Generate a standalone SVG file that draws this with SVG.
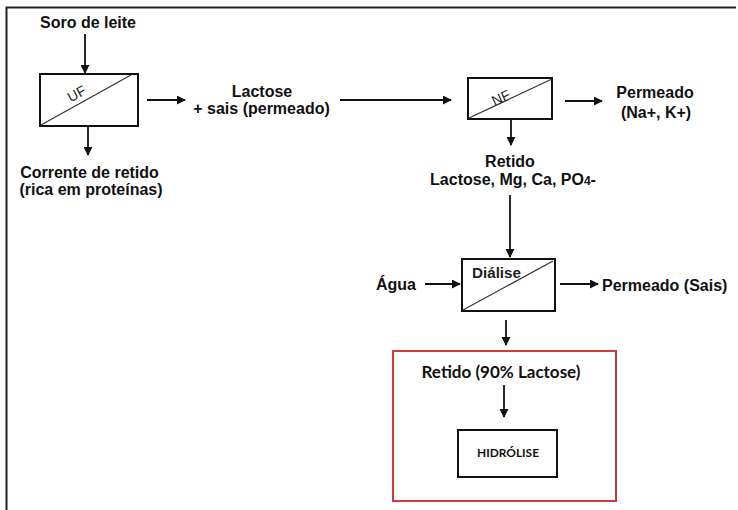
<svg xmlns="http://www.w3.org/2000/svg" width="738" height="510" viewBox="0 0 738 510">
  <style>
    .t { font-family: "Liberation Sans", Arial, sans-serif; font-weight: bold; font-size: 16px; fill: #111; }
    .c { font-family: Lato, "Liberation Sans", sans-serif; font-weight: bold; fill: #111; }
    .lbl { font-family: "Liberation Sans", Arial, sans-serif; font-size: 14px; fill: #222; }
    .box { fill: #fff; stroke: #111; stroke-width: 2; }
    .diag { stroke: #333; stroke-width: 1.2; fill: none; }
    .conn line { stroke: #111; stroke-width: 1.8; marker-end: url(#ah); }
  </style>
  <defs>
    <marker id="ah" viewBox="0 0 10 10" refX="9" refY="5" markerWidth="9" markerHeight="9" markerUnits="userSpaceOnUse" orient="auto">
      <path d="M0,0 L10,5 L0,10 z" fill="#111"/>
    </marker>
  </defs>
  <rect width="738" height="510" fill="#fff"/>
  <path d="M6.5,510 V7.5 H736" fill="none" stroke="#222" stroke-width="2"/>

  <g id="soro"><text class="t" x="88" y="28" text-anchor="middle">Soro de leite</text></g>

  <g id="uf">
    <rect class="box" x="40" y="74" width="98" height="52"/>
    <line class="diag" x1="41" y1="125" x2="131" y2="75"/>
    <text class="lbl" x="0" y="0" text-anchor="middle" transform="translate(79,98) rotate(-29)">UF</text>
  </g>

  <g id="corrente">
    <text class="t" x="89.5" y="178" text-anchor="middle">Corrente de retido</text>
    <text class="t" x="91" y="195" text-anchor="middle">(rica em proteínas)</text>
  </g>

  <g id="lactose">
    <text class="t" x="262" y="97" text-anchor="middle">Lactose</text>
    <text class="t" x="261.5" y="114" text-anchor="middle">+ sais (permeado)</text>
  </g>

  <g id="nf">
    <rect class="box" x="468" y="78" width="84" height="41"/>
    <line class="diag" x1="469" y1="118" x2="552" y2="79"/>
    <text class="lbl" x="0" y="0" text-anchor="middle" transform="translate(503,102) rotate(-25)">NF</text>
  </g>

  <g id="permeado1">
    <text class="t" x="655" y="98" text-anchor="middle">Permeado</text>
    <text class="t" x="656" y="118" text-anchor="middle">(Na+, K+)</text>
  </g>

  <g id="retido1">
    <text class="t" x="510" y="167" text-anchor="middle">Retido</text>
    <text class="t" x="513" y="185" text-anchor="middle">Lactose, Mg, Ca, PO<tspan font-size="12">4</tspan>-</text>
  </g>

  <g id="agua"><text class="t" x="376" y="290">Água</text></g>

  <g id="dialise">
    <rect class="box" x="462" y="259" width="93" height="52"/>
    <line class="diag" x1="463" y1="310" x2="553" y2="261"/>
    <text x="472" y="278" font-family="Liberation Sans, Arial, sans-serif" font-weight="bold" font-size="15" fill="#222" textLength="49" lengthAdjust="spacingAndGlyphs">Diálise</text>
  </g>

  <g id="permeado2"><text class="t" x="602" y="291">Permeado (Sais)</text></g>

  <g id="retido90">
    <rect x="393" y="351" width="223" height="150" fill="none" stroke="#d03a3a" stroke-width="2"/>
    <text class="c" x="501" y="378" font-size="17" text-anchor="middle" textLength="159" lengthAdjust="spacingAndGlyphs">Retido (90% Lactose)</text>
  </g>

  <g id="hidrolise">
    <rect class="box" x="458" y="430" width="99" height="47"/>
    <text class="c" x="508" y="457" font-size="11" font-weight="900" text-anchor="middle" textLength="62" lengthAdjust="spacingAndGlyphs">HIDRÓLISE</text>
  </g>

  <g id="connectors" class="conn">
    <line x1="85" y1="34" x2="85" y2="73"/>
    <line x1="88" y1="127" x2="88" y2="155"/>
    <line x1="147" y1="100" x2="185" y2="100"/>
    <line x1="340" y1="100" x2="451" y2="100"/>
    <line x1="565" y1="101" x2="602" y2="101"/>
    <line x1="511" y1="120" x2="511" y2="145"/>
    <line x1="510" y1="195" x2="510" y2="257"/>
    <line x1="425" y1="284" x2="460" y2="284"/>
    <line x1="560" y1="284" x2="598" y2="284"/>
    <line x1="506" y1="320" x2="506" y2="345"/>
    <line x1="504" y1="385" x2="504" y2="417"/>
  </g>
</svg>
